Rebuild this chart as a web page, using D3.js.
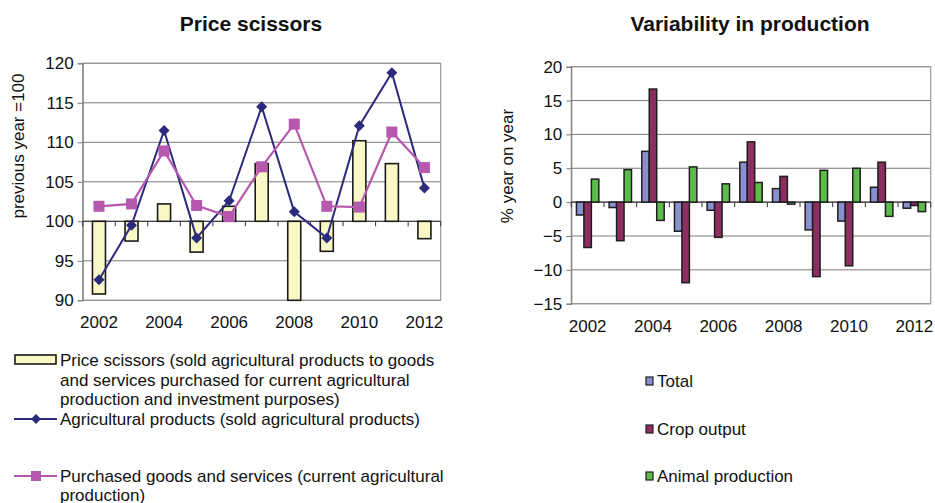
<!DOCTYPE html>
<html lang="en">
  <head>
    <meta charset="utf-8">
    <title>Price scissors / Variability in production</title>
    <script src="https://d3js.org/d3.v7.min.js"></script>
    <style>
      body { margin: 0; background: #fff; }
      svg text { font-family: "Liberation Sans", Arial, sans-serif; fill: #111; }
      .title { font-size: 21px; font-weight: bold; }
      .tick text { font-size: 17px; }
      .legend text { font-size: 17px; }
    </style>
  </head>
  <body>
    <svg id="chart" width="935" height="503"></svg>

    <script type="text/javascript">
      // data
      var years = [2002, 2003, 2004, 2005, 2006, 2007, 2008, 2009, 2010, 2011, 2012];
      var yearLabels = [2002, 2004, 2006, 2008, 2010, 2012];

      var priceScissors = [90.8, 97.5, 102.2, 96.1, 101.9, 107.3, 90.0, 96.2, 110.2, 107.3, 97.8];
      var agriProducts = [92.6, 99.5, 111.5, 97.9, 102.6, 114.5, 101.2, 97.9, 112.1, 118.8, 104.2];
      var purchasedGoods = [101.9, 102.2, 108.9, 102.0, 100.6, 106.9, 112.3, 101.9, 101.8, 111.3, 106.8];
      var leftTicks = [90, 95, 100, 105, 110, 115, 120];

      var totalProd = [-1.9, -0.8, 7.5, -4.3, -1.2, 5.9, 2.0, -4.1, -2.8, 2.2, -0.9];
      var cropOutput = [-6.7, -5.7, 16.7, -11.9, -5.2, 8.9, 3.8, -11.0, -9.4, 5.9, -0.5];
      var animalProd = [3.4, 4.8, -2.7, 5.2, 2.7, 2.9, -0.3, 4.7, 5.0, -2.1, -1.4];
      var rightTicks = [-15, -10, -5, 0, 5, 10, 15, 20];

      var svg = d3.select("#chart");
      var gridColor = "#7a7a7a", frameColor = "#9a9a9a";

      // common frame: grid, border, y axis, baseline ticks, year labels
      function drawFrame(g, x, y, ticks, base, yTitle, yTitlePos) {
        var x0 = x.range()[0], x1 = x.range()[1];
        var yr = y.range();

        g.selectAll(".grid").data(ticks).enter().append("line")
          .attr("class", "grid")
          .attr("x1", x0).attr("x2", x1)
          .attr("y1", function(d) { return y(d) }).attr("y2", function(d) { return y(d) })
          .attr("stroke", gridColor).attr("stroke-width", 1);

        g.append("rect")
          .attr("x", x0).attr("y", yr[1])
          .attr("width", x1 - x0).attr("height", yr[0] - yr[1])
          .attr("fill", "none").attr("stroke", frameColor).attr("stroke-width", 1.2);

        var yAxis = g.append("g")
          .attr("transform", "translate(" + x0 + ",0)")
          .call(d3.axisLeft(y).tickValues(ticks).tickSize(5).tickPadding(4));
        yAxis.select(".domain").attr("stroke", gridColor);
        yAxis.selectAll(".tick line").attr("stroke", gridColor);

        // baseline with small ticks between categories
        var bounds = years.map(function(d) { return x(d) }).concat([x1]);
        g.selectAll(".btick").data(bounds).enter().append("line")
          .attr("class", "btick")
          .attr("x1", function(d) { return d }).attr("x2", function(d) { return d })
          .attr("y1", y(base)).attr("y2", y(base) + 5)
          .attr("stroke", "#333").attr("stroke-width", 1);
        g.append("line")
          .attr("x1", x0).attr("x2", x1)
          .attr("y1", y(base)).attr("y2", y(base))
          .attr("stroke", "#444").attr("stroke-width", 1.2);

        g.selectAll(".xlab").data(yearLabels).enter().append("text")
          .attr("class", "xlab")
          .attr("x", function(d) { return x(d) + x.bandwidth() / 2 })
          .attr("y", yr[0] + 28)
          .attr("text-anchor", "middle")
          .style("font-size", "17px")
          .text(function(d) { return d });

        g.append("text")
          .attr("transform", "translate(" + yTitlePos[0] + "," + yTitlePos[1] + ") rotate(-90)")
          .attr("text-anchor", "middle")
          .style("font-size", "17px")
          .text(yTitle);
      }

      // ---------- left chart: Price scissors ----------
      var left = svg.append("g");
      var xL = d3.scaleBand().domain(years).range([82.7, 440.7]);
      var yL = d3.scaleLinear().domain([90, 120]).range([300.3, 63.3]);

      left.append("text").attr("class", "title")
        .attr("x", 251).attr("y", 31).attr("text-anchor", "middle")
        .text("Price scissors");

      drawFrame(left, xL, yL, leftTicks, 100, "previous year =100", [24, 146]);

      var barW = 13;
      left.selectAll(".ps").data(priceScissors).enter().append("rect")
        .attr("class", "ps")
        .attr("x", function(d, i) { return xL(years[i]) + xL.bandwidth() / 2 - barW / 2 })
        .attr("y", function(d) { return yL(Math.max(d, 100)) })
        .attr("width", barW)
        .attr("height", function(d) { return Math.abs(yL(d) - yL(100)) })
        .attr("fill", "#fbf8c8").attr("stroke", "#1a1a1a").attr("stroke-width", 1.6);

      var lineL = d3.line()
        .x(function(d, i) { return xL(years[i]) + xL.bandwidth() / 2 })
        .y(function(d) { return yL(d) });

      var navy = "#2c2a7c", magenta = "#b558ae";

      left.append("path").datum(agriProducts)
        .attr("d", lineL).attr("fill", "none")
        .attr("stroke", navy).attr("stroke-width", 2);
      left.selectAll(".dia").data(agriProducts).enter().append("path")
        .attr("class", "dia")
        .attr("transform", function(d, i) { return "translate(" + (xL(years[i]) + xL.bandwidth() / 2) + "," + yL(d) + ")" })
        .attr("d", "M0,-5.5L5.5,0L0,5.5L-5.5,0Z")
        .attr("fill", navy);

      left.append("path").datum(purchasedGoods)
        .attr("d", lineL).attr("fill", "none")
        .attr("stroke", magenta).attr("stroke-width", 2.2);
      left.selectAll(".sq").data(purchasedGoods).enter().append("rect")
        .attr("class", "sq")
        .attr("x", function(d, i) { return xL(years[i]) + xL.bandwidth() / 2 - 5.5 })
        .attr("y", function(d) { return yL(d) - 5.5 })
        .attr("width", 11).attr("height", 11)
        .attr("fill", magenta);

      // left legend
      var legL = svg.append("g").attr("class", "legend");
      legL.append("rect")
        .attr("x", 15).attr("y", 355).attr("width", 41).attr("height", 9)
        .attr("fill", "#fbf8c8").attr("stroke", "#1a1a1a").attr("stroke-width", 1.6);
      var psLines = ["Price scissors (sold agricultural products to goods",
                     "and services purchased for current agricultural",
                     "production and investment purposes)"];
      legL.selectAll(".l1").data(psLines).enter().append("text")
        .attr("class", "l1")
        .attr("x", 60).attr("y", function(d, i) { return 366 + i * 19.5 })
        .text(function(d) { return d });

      legL.append("line").attr("x1", 14).attr("x2", 57).attr("y1", 419).attr("y2", 419)
        .attr("stroke", navy).attr("stroke-width", 2);
      legL.append("path").attr("transform", "translate(36,419)")
        .attr("d", "M0,-5L5,0L0,5L-5,0Z").attr("fill", navy);
      legL.append("text").attr("x", 60).attr("y", 424.5)
        .text("Agricultural products (sold agricultural products)");

      legL.append("line").attr("x1", 14).attr("x2", 57).attr("y1", 476).attr("y2", 476)
        .attr("stroke", magenta).attr("stroke-width", 2.2);
      legL.append("rect").attr("x", 31).attr("y", 471).attr("width", 10).attr("height", 10)
        .attr("fill", magenta);
      var pgLines = ["Purchased goods and services (current agricultural", "production)"];
      legL.selectAll(".l3").data(pgLines).enter().append("text")
        .attr("class", "l3")
        .attr("x", 60).attr("y", function(d, i) { return 482 + i * 18.5 })
        .text(function(d) { return d });

      // ---------- right chart: Variability in production ----------
      var right = svg.append("g");
      var xR = d3.scaleBand().domain(years).range([571.3, 930.7]);
      var yR = d3.scaleLinear().domain([-15, 20]).range([303.7, 66.7]);

      right.append("text").attr("class", "title")
        .attr("x", 750).attr("y", 31).attr("text-anchor", "middle")
        .text("Variability in production");

      drawFrame(right, xR, yR, rightTicks, 0, "% year on year", [513, 166]);

      var seriesNames = ["Total", "Crop output", "Animal production"];
      var seriesColors = ["#8b8fd0", "#8c2e60", "#5cbc4a"];
      var seriesValues = [totalProd, cropOutput, animalProd];

      var xSub = d3.scaleBand().domain([0, 1, 2]).range([0, 22.4]);
      var groupOffset = (xR.bandwidth() - 22.4) / 2;

      seriesValues.forEach(function(vals, s) {
        right.selectAll(".s" + s).data(vals).enter().append("rect")
          .attr("class", "s" + s)
          .attr("x", function(d, i) { return xR(years[i]) + groupOffset + xSub(s) })
          .attr("y", function(d) { return yR(Math.max(d, 0)) })
          .attr("width", xSub.bandwidth())
          .attr("height", function(d) { return Math.abs(yR(d) - yR(0)) })
          .attr("fill", seriesColors[s]).attr("stroke", "#1e1e1e").attr("stroke-width", 1.5);
      });

      // right legend
      var legR = svg.append("g").attr("class", "legend");
      var legY = [381, 429, 476];
      seriesNames.forEach(function(name, s) {
        legR.append("rect").attr("x", 646).attr("y", legY[s] - 4).attr("width", 7).attr("height", 8)
          .attr("fill", seriesColors[s]).attr("stroke", "#1e1e1e").attr("stroke-width", 1.2);
        legR.append("text").attr("x", 657).attr("y", legY[s] + 6).text(name);
      });
    </script>
  </body>
</html>
